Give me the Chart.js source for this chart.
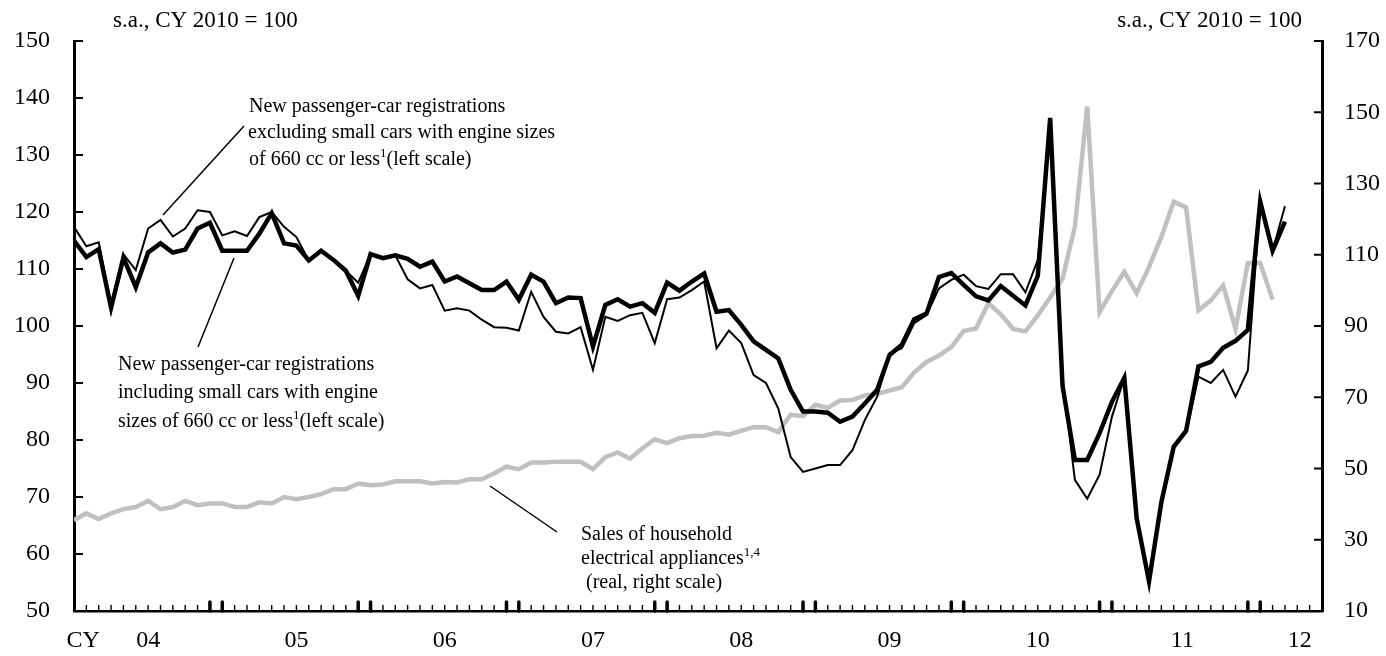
<!DOCTYPE html>
<html>
<head>
<meta charset="utf-8">
<title>New passenger-car registrations and household appliance sales</title>
<script src="https://cdn.jsdelivr.net/npm/chart.js@4.4.0/dist/chart.umd.min.js"></script>
<style>
  html, body { margin: 0; padding: 0; background: #fff; }
  #wrap { position: relative; width: 1386px; height: 656px; }
</style>
</head>
<body>
<div id="wrap"><canvas id="chartCars" width="1386" height="656"></canvas></div>
<script>
/* monthly, Jan 2004 .. Mar 2012, s.a., CY2010 = 100 (left scale) */
const carsIncl = [
  115.0, 112.1, 113.5, 103.2, 112.0, 106.8, 112.9, 114.5, 112.9, 113.4, 117.1, 118.1,
  113.2, 113.2, 113.2, 116.2, 119.8, 114.5, 114.1, 111.5, 113.2, 111.6, 109.7, 105.3,
  112.6, 111.9, 112.4, 111.8, 110.4, 111.3, 107.8, 108.7, 107.5, 106.3, 106.3, 107.8,
  104.6, 109.0, 107.8, 104.0, 105.0, 104.9, 96.4, 103.7, 104.7, 103.4, 104.0, 102.3,
  107.6, 106.2, 107.8, 109.2, 102.5, 102.8, 100.2, 97.3, 95.8, 94.3, 88.8, 85.0,
  85.0, 84.8, 83.2, 84.1, 86.4, 88.8, 94.9, 96.7, 101.2, 102.2, 108.6, 109.3,
  107.2, 105.2, 104.5, 107.0, 105.3, 103.6, 108.8, 136.5, 89.5, 76.5, 76.5, 81.2,
  86.7, 90.9, 66.3, 55.2, 69.1, 78.8, 81.6, 92.9, 93.7, 96.2, 97.4, 99.3,
  121.8, 113.2, 118.3
];
const carsExcl = [
  117.4, 114.0, 114.7, 103.5, 112.6, 109.8, 117.1, 118.6, 115.7, 117.1, 120.3, 120.0,
  115.9, 116.6, 115.8, 119.1, 120.0, 117.4, 115.6, 111.5, 113.4, 111.6, 109.7, 107.6,
  112.6, 111.9, 112.4, 108.2, 106.6, 107.2, 102.7, 103.1, 102.7, 101.1, 99.8, 99.7,
  99.2, 106.0, 101.6, 99.0, 98.7, 99.8, 92.3, 101.6, 100.9, 101.9, 102.3, 97.0,
  104.7, 105.0, 106.3, 107.8, 96.1, 99.2, 97.0, 91.4, 90.0, 85.5, 77.0, 74.4,
  75.0, 75.6, 75.6, 78.2, 83.5, 87.6, 95.2, 96.1, 100.5, 101.9, 106.6, 108.1,
  109.0, 107.0, 106.5, 109.1, 109.1, 105.9, 111.6, 134.0, 91.0, 73.0, 69.7, 73.9,
  84.1, 90.9, 66.3, 55.2, 69.1, 78.8, 81.3, 91.1, 90.0, 92.3, 87.6, 92.2,
  121.8, 113.2, 121.0
];
/* Jan 2004 .. Feb 2012, real, right scale */
const appliances = [
  35.5, 37.4, 35.8, 37.4, 38.6, 39.2, 40.9, 38.6, 39.2, 40.9, 39.7, 40.2,
  40.2, 39.2, 39.2, 40.5, 40.2, 42.0, 41.4, 42.0, 42.8, 44.2, 44.2, 45.8,
  45.3, 45.5, 46.4, 46.4, 46.4, 45.8, 46.2, 46.1, 47.0, 47.0, 48.6, 50.5,
  49.8, 51.7, 51.7, 51.9, 51.9, 51.9, 49.8, 53.2, 54.5, 52.8, 55.7, 58.2,
  57.1, 58.5, 59.1, 59.2, 60.0, 59.5, 60.6, 61.6, 61.6, 60.2, 65.1, 64.7,
  67.9, 67.0, 69.1, 69.2, 70.5, 71.0, 71.9, 72.8, 77.0, 79.9, 81.7, 84.1,
  88.6, 89.3, 96.4, 93.3, 89.2, 88.5, 93.0, 98.0, 103.3, 117.8, 151.6, 93.9,
  99.8, 105.2, 99.2, 106.6, 115.0, 124.9, 123.3, 94.4, 97.2, 101.4, 89.2, 107.7,
  107.7, 97.4
];

const yearLabels = ["CY", "04", "05", "06", "07", "08", "09", "10", "11", "12"];
const yearLabelMonths = [0.75, 6, 18, 30, 42, 54, 66, 78, 89.7, 99.2];
const leftTicks = [50, 60, 70, 80, 90, 100, 110, 120, 130, 140, 150];
const rightTicks = [10, 30, 50, 70, 90, 110, 130, 150, 170];
const lastMonth = 101;

const serif = '"Liberation Serif", "Times New Roman", serif';
const toPoints = (arr) => arr.map((v, i) => ({ x: i, y: v }));

// small inward tick marks on all three axes
const axisMarks = {
    id: "axisMarks",
    afterDraw(chart) {
        const { ctx, chartArea: a, scales } = chart;
        ctx.save();
        ctx.strokeStyle = "#000";
        for (let m = 1; m < lastMonth; m++) {
            const px = scales.x.getPixelForValue(m);
            const edge = m % 12 === 11 || m % 12 === 0;
            ctx.lineWidth = edge ? 3.5 : 1.4;
            ctx.lineCap = edge ? "round" : "butt";
            ctx.beginPath();
            ctx.moveTo(px, a.bottom);
            ctx.lineTo(px, a.bottom - (edge ? 9 : 6));
            ctx.stroke();
        }
        ctx.lineCap = "butt";
        ctx.lineWidth = 2;
        leftTicks.forEach((v) => {
            const py = scales.y.getPixelForValue(v);
            ctx.beginPath();
            ctx.moveTo(a.left, py);
            ctx.lineTo(a.left + 9, py);
            ctx.stroke();
        });
        rightTicks.forEach((v) => {
            const py = scales.y2.getPixelForValue(v);
            ctx.beginPath();
            ctx.moveTo(a.right, py);
            ctx.lineTo(a.right - 8, py);
            ctx.stroke();
        });
        ctx.restore();
    }
};

// text with an optional raised footnote mark
function drawRuns(ctx, parts, x, y) {
    parts.forEach((p) => {
        if (p.sup) {
            ctx.font = "13px " + serif;
            ctx.fillText(p.t, x, y - 6);
        } else {
            ctx.font = "20px " + serif;
            ctx.fillText(p.t, x, y);
        }
        x += ctx.measureText(p.t).width;
    });
}

function leader(ctx, x1, y1, x2, y2) {
    ctx.beginPath();
    ctx.moveTo(x1, y1);
    ctx.lineTo(x2, y2);
    ctx.stroke();
}

const notes = {
    id: "notes",
    afterDraw(chart) {
        const ctx = chart.ctx;
        ctx.save();
        ctx.fillStyle = "#000";
        ctx.strokeStyle = "#000";
        ctx.lineWidth = 1.5;
        ctx.textBaseline = "middle";
        ctx.font = "23px " + serif;
        ctx.textAlign = "left";
        ctx.fillText("s.a., CY 2010 = 100", 113, 21);
        ctx.textAlign = "right";
        ctx.fillText("s.a., CY 2010 = 100", 1302, 21);
        ctx.textAlign = "left";

        drawRuns(ctx, [{ t: "New passenger-car registrations" }], 249, 107);
        drawRuns(ctx, [{ t: "excluding small cars with engine sizes" }], 248, 133);
        drawRuns(ctx, [{ t: "of 660 cc or less" }, { t: "1", sup: true }, { t: "(left scale)" }], 249, 160);
        leader(ctx, 244, 126, 163, 215);

        drawRuns(ctx, [{ t: "New passenger-car registrations" }], 118, 365);
        drawRuns(ctx, [{ t: "including small cars with engine" }], 118, 393);
        drawRuns(ctx, [{ t: "sizes of 660 cc or less" }, { t: "1", sup: true }, { t: "(left scale)" }], 118, 422);
        leader(ctx, 234, 258, 198, 347);

        drawRuns(ctx, [{ t: "Sales of household" }], 581, 535);
        drawRuns(ctx, [{ t: "electrical appliances" }, { t: "1,4", sup: true }], 581, 559);
        drawRuns(ctx, [{ t: " (real, right scale)" }], 581, 583);
        leader(ctx, 490, 486, 557, 532);
        ctx.restore();
    }
};

document.addEventListener("DOMContentLoaded", function () {
    const tickFont = { family: serif, size: 24 };

    new Chart("chartCars", {
        type: "line",
        data: {
            datasets: [
                {
                    label: "New passenger-car registrations incl. small cars",
                    data: toPoints(carsIncl),
                    borderColor: "#000",
                    borderWidth: 4.5,
                    yAxisID: "y",
                    order: 0
                },
                {
                    label: "New passenger-car registrations excl. small cars",
                    data: toPoints(carsExcl),
                    borderColor: "#000",
                    borderWidth: 2,
                    yAxisID: "y",
                    order: 1
                },
                {
                    label: "Sales of household electrical appliances",
                    data: toPoints(appliances),
                    borderColor: "#c0c0c0",
                    borderWidth: 4.5,
                    yAxisID: "y2",
                    order: 2
                }
            ]
        },
        options: {
            responsive: false,
            animation: false,
            layout: { padding: { top: 41, left: 0, right: 0, bottom: 0 } },
            elements: { point: { radius: 0 }, line: { tension: 0 } },
            plugins: { legend: { display: false }, tooltip: { enabled: false } },
            scales: {
                x: {
                    type: "linear",
                    min: 0,
                    max: lastMonth,
                    afterBuildTicks: (s) => { s.ticks = yearLabelMonths.map((v) => ({ value: v })); },
                    afterFit: (s) => { s.height = 45; },
                    ticks: {
                        callback: (v, i) => yearLabels[i],
                        autoSkip: false,
                        maxRotation: 0,
                        padding: 15,
                        color: "#000",
                        font: tickFont
                    },
                    grid: { display: false, drawTicks: false },
                    border: { display: true, color: "#000", width: 2.5 }
                },
                y: {
                    position: "left",
                    min: 50,
                    max: 150,
                    afterBuildTicks: (s) => { s.ticks = leftTicks.map((v) => ({ value: v })); },
                    afterFit: (s) => { s.width = 74; },
                    ticks: { padding: 24, color: "#000", font: tickFont },
                    grid: { display: false, drawTicks: false },
                    border: { display: true, color: "#000", width: 3 }
                },
                y2: {
                    position: "right",
                    min: 10,
                    max: 170,
                    afterBuildTicks: (s) => { s.ticks = rightTicks.map((v) => ({ value: v })); },
                    afterFit: (s) => { s.width = 64; },
                    ticks: { padding: 22, color: "#000", font: tickFont },
                    grid: { display: false, drawTicks: false },
                    border: { display: true, color: "#000", width: 3 }
                }
            }
        },
        plugins: [axisMarks, notes]
    });
});
</script>
</body>
</html>
